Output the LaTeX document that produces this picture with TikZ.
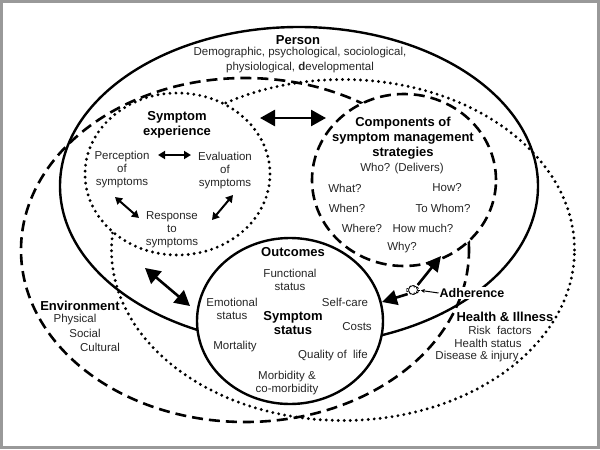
\documentclass[tikz,border=0pt]{standalone}
\usepackage{fontspec}
\setmainfont{Liberation Sans}
\usepackage{tikz}
\usetikzlibrary{arrows.meta,shapes.geometric}

\tikzset{
  txt/.style={font=\fontsize{11.5}{13}\selectfont, align=center, inner sep=1pt, text=black!85},
  hd/.style={font=\fontsize{13}{15}\selectfont\bfseries, align=center, inner sep=1pt},
  ring/.style={draw, ellipse, line width=2.4pt},
  dashring/.style={ring, line width=2.6pt, dash pattern=on 11pt off 6pt},
  dotring/.style={ring, line width=3.2pt, line cap=round, dash pattern=on 0pt off 6pt},
  bigdbl/.style={{Triangle[length=15pt,width=16pt]}-{Triangle[length=15pt,width=16pt]}, line width=2.6pt},
  smalldbl/.style={{Triangle[length=7pt,width=8pt]}-{Triangle[length=7pt,width=8pt]}, line width=2pt},
  bigone/.style={-{Triangle[length=15pt,width=15pt]}, line width=2.6pt}
}

\begin{document}
\begin{tikzpicture}[x=1pt,y=-1pt]
  \useasboundingbox (0,0) rectangle (600,450);
  \draw [gray!80, line width=2.5pt] (1.5,1.5) rectangle (598.5,447.5);

  % the large rings
  \node (person) [ring, minimum width=478pt, minimum height=318pt] at (299,186) {};
  \node (health) [dotring, minimum width=463pt, minimum height=341pt] at (343,250) {};
  \node (symexp) [dotring, fill=white, minimum width=185pt, minimum height=162pt] at (177.5,174) {};
  \node (environ) [dashring, minimum width=448pt, minimum height=344pt] at (245,250) {};
  \node (comps) [dashring, fill=white, minimum width=184pt, minimum height=172pt] at (404,180) {};
  \node (outcomes) [ring, fill=white, minimum width=186pt, minimum height=166pt] at (290,321) {};

  % person
  \node (persT) [hd] at (298,40) {Person};
  \node (persA) [txt, font=\fontsize{11.5}{15}\selectfont] at (300,60.5)
    {Demographic, psychological, sociological,\\physiological, {\bfseries d}evelopmental};

  % symptom experience
  \node (symexpT) [hd] at (177,124.5) {Symptom\\experience};
  \node (percep) [txt] at (122,170) {Perception\\of\\symptoms};
  \node (evalu) [txt] at (225,171) {Evaluation\\of\\symptoms};
  \node (respon) [txt] at (172,230) {Response\\to\\symptoms};
  \coordinate (pe1) at (158,155);
  \coordinate (pe2) at (191,155);
  \coordinate (pr1) at (115,197);
  \coordinate (pr2) at (139,218);
  \coordinate (er1) at (233,195);
  \coordinate (er2) at (212,220);
  \draw [smalldbl] (pe1) -- (pe2);
  \draw [smalldbl] (pr1) -- (pr2);
  \draw [smalldbl] (er1) -- (er2);

  % components of symptom management
  \node (compsT) [hd] at (403,138) {Components of\\symptom management\\strategies};
  \node (who) [txt] at (402,169) {Who? (Delivers)};
  \node (what) [txt] at (345,188) {What?};
  \node (how) [txt] at (447,188) {How?};
  \node (when) [txt] at (347,208) {When?};
  \node (towhom) [txt] at (443,208) {To Whom?};
  \node (where) [txt] at (362,228) {Where?};
  \node (howmuch) [txt] at (423,228) {How much?};
  \node (why) [txt] at (402,248) {Why?};

  % outcomes
  \node (outcT) [hd] at (293,252) {Outcomes};
  \node (functional) [txt] at (290,280) {Functional\\status};
  \node (emotional) [txt] at (232,309) {Emotional\\status};
  \node (selfcare) [txt] at (345,302) {Self-care};
  \node (symstat) [hd, font=\fontsize{13}{14}\selectfont\bfseries] at (293,323.5) {Symptom\\status};
  \node (costs) [txt] at (357,327) {Costs};
  \node (mortality) [txt] at (235,347) {Mortality};
  \node (quality) [txt] at (333,356) {Quality of~~life};
  \node (morbidity) [txt] at (287,383.5) {Morbidity \&\\co-morbidity};

  % environment
  \node (envT) [hd] at (80,306) {Environment};
  \node (physical) [txt] at (75,320) {Physical};
  \node (social) [txt] at (85,333) {Social};
  \node (cultural) [txt] at (100,347) {Cultural};

  % health and illness
  \node (healthT) [hd] at (505,317) {Health \& Illness};
  \node (risk) [txt] at (500,330) {Risk~~factors};
  \node (hstatus) [txt] at (488,343) {Health status};
  \node (disease) [txt] at (477,357) {Disease \& injury};

  % links between the rings
  \coordinate (se1) at (260,118);
  \coordinate (se2) at (326,118);
  \draw [bigdbl] (se1) -- (se2);
  \coordinate (so1) at (145,268);
  \coordinate (so2) at (190,306);
  \draw [bigdbl] (so1) -- (so2);

  % adherence
  \node (adh) [hd, fill=white, font=\fontsize{12.5}{14}\selectfont\bfseries] at (472,293) {Adherence};
  \node (sun) [draw, circle, line width=0.8pt, minimum size=9pt, inner sep=0pt] at (413,290) {};
  \foreach \a in {0,40,...,320}
    \draw [line width=0.8pt] (sun.\a) -- ++(\a:2.5);
  \draw [-{Stealth[length=4pt,width=4pt]}, line width=1pt, shorten >=3pt] (adh.west) -- (sun.east);
  \coordinate (toComps) at (441,256);
  \coordinate (toOutc) at (382,302);
  \draw [bigone, shorten <=2pt] (sun.north east) -- (toComps);
  \draw [bigone, shorten <=2pt] (sun.south west) -- (toOutc);
\end{tikzpicture}
\end{document}
